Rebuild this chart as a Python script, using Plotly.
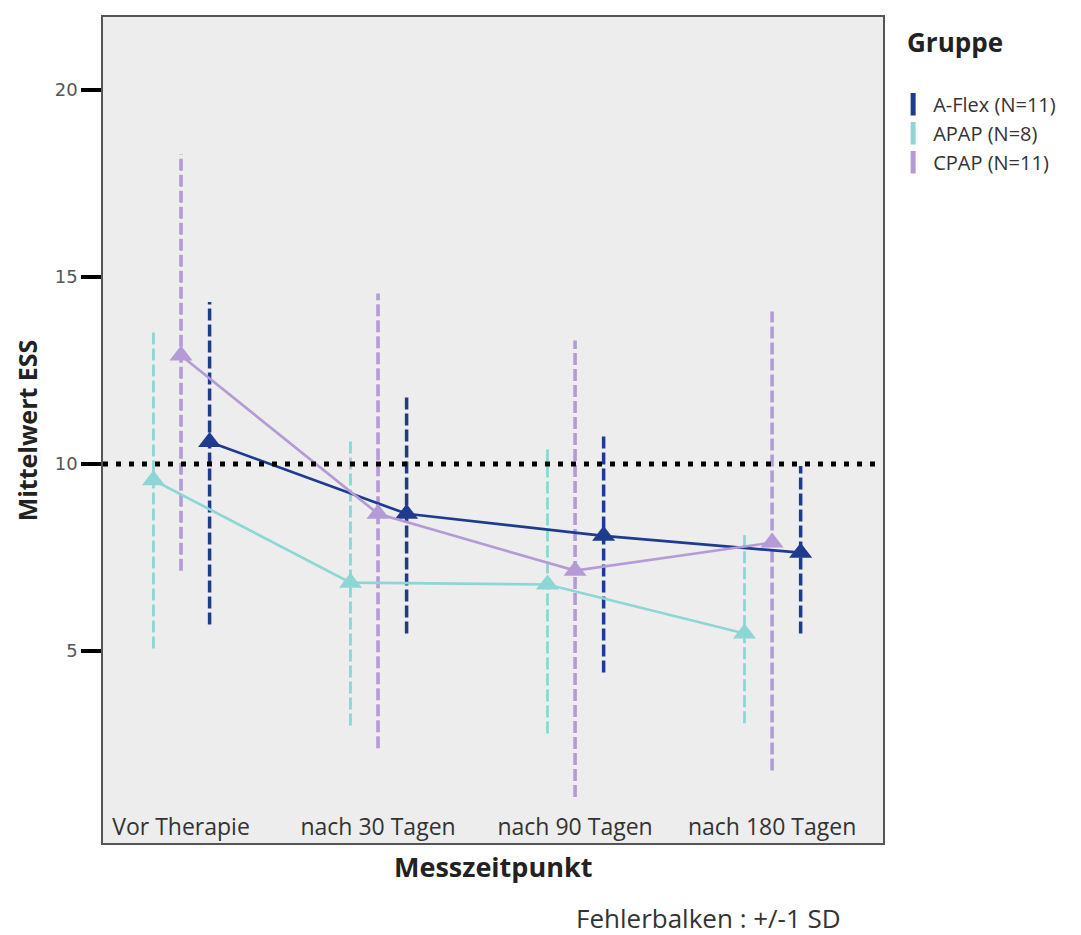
import plotly.graph_objects as go

categories = ["Vor Therapie", "nach 30 Tagen", "nach 90 Tagen", "nach 180 Tagen"]
groups = ["A-Flex (N=11)", "APAP (N=8)", "CPAP (N=11)"]

aflex_mean = [10.59, 8.67, 8.08, 7.63]
aflex_upper = [14.33, 11.87, 10.83, 9.95]
aflex_lower = [5.71, 5.47, 4.43, 5.47]

apap_mean = [9.57, 6.83, 6.78, 5.47]
apap_upper = [13.57, 10.64, 10.48, 8.13]
apap_lower = [5.07, 3.01, 2.80, 3.07]

cpap_mean = [12.90, 8.67, 7.15, 7.90]
cpap_upper = [18.28, 14.56, 13.30, 14.08]
cpap_lower = [7.15, 2.40, 1.10, 1.81]

reference_line = 10
y_ticks = [0, 5, 10, 15, 20]

series = [
    dict(name=groups[0], mean=aflex_mean, upper=aflex_upper, lower=aflex_lower,
         color="#1f3b8f", offset=0.145, ebw=3.5),
    dict(name=groups[1], mean=apap_mean, upper=apap_upper, lower=apap_lower,
         color="#8dd6d6", offset=-0.14, ebw=2.8),
    dict(name=groups[2], mean=cpap_mean, upper=cpap_upper, lower=cpap_lower,
         color="#b49bd5", offset=0.0, ebw=3.6),
]

FONT = "Open Sans, Lato, sans-serif"

fig = go.Figure()

# error bars (dashed vertical lines)
for s in series:
    xs, ys = [], []
    for i in range(len(categories)):
        xs += [i + s["offset"], i + s["offset"], None]
        ys += [s["lower"][i], s["upper"][i], None]
    fig.add_trace(go.Scatter(x=xs, y=ys, mode="lines", showlegend=False,
                             hoverinfo="skip",
                             line=dict(color=s["color"], width=s["ebw"], dash="12px,4px")))

# mean lines with triangle markers
for s in series:
    fig.add_trace(go.Scatter(
        x=[i + s["offset"] for i in range(len(categories))], y=s["mean"],
        mode="lines+markers", showlegend=False, name=s["name"],
        line=dict(color=s["color"], width=2.7),
        marker=dict(symbol="triangle-up", size=20, color=s["color"])))

# legend-only entries (vertical bar swatch)
for s in series:
    fig.add_trace(go.Scatter(
        x=[None], y=[None], mode="markers", name=s["name"], showlegend=True,
        marker=dict(symbol="line-ns-open", size=22, color=s["color"],
                    line=dict(color=s["color"], width=5))))

fig.add_shape(type="line", xref="paper", yref="y", x0=0, x1=1,
              y0=reference_line, y1=reference_line,
              line=dict(color="black", width=5, dash="5px,8px"))

fig.update_layout(
    width=1073, height=927,
    margin=dict(l=95, r=198, t=7, b=92),
    paper_bgcolor="white", plot_bgcolor="#ededed",
    font=dict(family=FONT, color="#333"),
    legend=dict(x=1.013, xanchor="left", y=0.918, yanchor="top",
                font=dict(size=20, color="#333", family=FONT),
                bgcolor="rgba(0,0,0,0)", itemwidth=30, tracegroupgap=0),
    xaxis=dict(range=[-0.396, 3.563], tickmode="array",
               tickvals=list(range(len(categories))), ticktext=categories,
               ticks="", ticklabelposition="inside", ticklabelstandoff=5,
               tickfont=dict(size=23, color="#333", family=FONT),
               showgrid=False, zeroline=False, showline=True, mirror=True,
               linecolor="#555", linewidth=1.5),
    yaxis=dict(range=[-0.13, 21.95], tickmode="array", tickvals=y_ticks,
               ticks="outside", ticklen=20, tickwidth=4, tickcolor="black",
               tickfont=dict(size=18, color="#555", family="DejaVu Sans"),
               showgrid=False, zeroline=False, showline=True, mirror=True,
               linecolor="#555", linewidth=1.5),
    annotations=[
        dict(text="<b>Mittelwert ESS</b>", xref="paper", yref="paper",
             x=-0.097, xanchor="center", y=0.5, textangle=-90, showarrow=False,
             font=dict(size=25, color="#222", family=FONT)),
        dict(text="<b>Messzeitpunkt</b>", xref="paper", yref="paper",
             x=0.5, xanchor="center", y=-0.028, yanchor="middle", showarrow=False,
             font=dict(size=27, color="#222", family=FONT)),
        dict(text="Fehlerbalken : +/-1 SD", xref="paper", yref="paper",
             x=0.776, xanchor="center", y=-0.0906, yanchor="middle", showarrow=False,
             font=dict(size=26, color="#333", family=FONT)),
        dict(text="<b>Gruppe</b>", xref="paper", yref="paper",
             x=1.028, xanchor="left", y=0.970, yanchor="middle", showarrow=False,
             font=dict(size=26, color="#222", family=FONT)),
    ],
)

fig.write_html("out.html")
